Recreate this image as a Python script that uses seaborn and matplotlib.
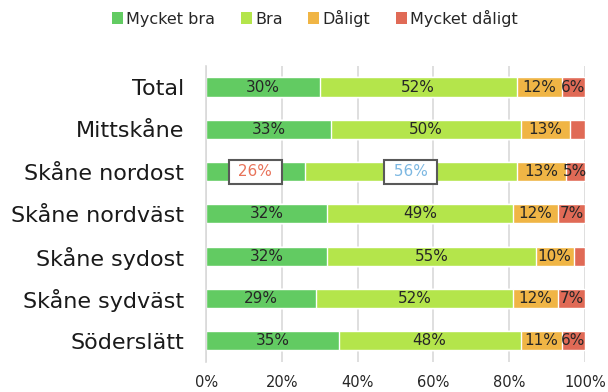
import numpy as np
import pandas as pd
import matplotlib
matplotlib.use("Agg")
import matplotlib.pyplot as plt
from matplotlib.patches import Patch
import seaborn as sns

# Survey answers per area (percent of respondents)
areas = ["Total", "Mittskåne", "Skåne nordost", "Skåne nordväst",
         "Skåne sydost", "Skåne sydväst", "Söderslätt"]
series = ["Mycket bra", "Bra", "Dåligt", "Mycket dåligt"]
mycket_bra = [30, 33, 26, 32, 32, 29, 35]
bra = [52, 50, 56, 49, 55, 52, 48]
daligt = [12, 13, 13, 12, 10, 12, 11]
mycket_daligt = [6, 4, 5, 7, 3, 7, 6]
x_ticks = [0, 20, 40, 60, 80, 100]

colors = ["#62CB62", "#B4E54B", "#F0B545", "#E06A56"]
highlight = {("Skåne nordost", 0): "#E8735A", ("Skåne nordost", 1): "#7DB8E2"}

sns.set_theme(style="white")
plt.rcParams["font.family"] = ["DejaVu Sans"]

values = np.array([mycket_bra, bra, daligt, mycket_daligt], dtype=float)
cum = values.cumsum(axis=0)
df = pd.DataFrame({"area": areas})
for i, name in enumerate(series):
    df[name + "_end"] = cum[i]

fig = plt.figure(figsize=(6.08, 3.92), dpi=100)
ax = fig.add_axes([0.339, 0.0765, 0.623, 0.7555])

# Stacked bars: draw cumulative totals from the outermost segment inwards
for i in reversed(range(len(series))):
    sns.barplot(data=df, x=series[i] + "_end", y="area", order=areas,
                color=colors[i], saturation=1, width=0.45, orient="h",
                ax=ax, zorder=2)

# Segment value labels
for r, area in enumerate(areas):
    start = 0.0
    for i in range(len(series)):
        v = values[i, r]
        if v >= 5:
            key = (area, i)
            if key in highlight:
                ax.text(start + v / 2, r, f" {int(v)}% ", ha="center",
                        va="center", fontsize=11, color=highlight[key],
                        zorder=4,
                        bbox=dict(boxstyle="square,pad=0.3", fc="white",
                                  ec="#595959", lw=1.5))
            else:
                ax.text(start + v / 2, r, f"{int(v)}%", ha="center",
                        va="center", fontsize=11, color="#262626", zorder=4)
        start += v

ax.set_xlim(0, 100)
ax.set_ylim(len(areas) - 0.5, -0.5)
ax.set_xticks(x_ticks)
ax.set_xticklabels([f"{t}%" for t in x_ticks], fontsize=10.5, color="#262626")
ax.set_yticks(range(len(areas)))
ax.set_yticklabels(areas, fontsize=16, color="#1a1a1a")
ax.set_yticks(np.arange(-0.5, len(areas), 1), minor=True)
ax.tick_params(axis="y", which="major", length=0, pad=16)
ax.tick_params(axis="y", which="minor", length=5, width=1.2, color="#D9D9D9")
ax.tick_params(axis="x", length=0, pad=9)
ax.set_xlabel("")
ax.set_ylabel("")

ax.set_axisbelow(True)
ax.xaxis.grid(True, color="#D9D9D9", lw=1.2)
ax.yaxis.grid(False)
for s in ["top", "right", "bottom"]:
    ax.spines[s].set_visible(False)
ax.spines["left"].set_color("#D9D9D9")
ax.spines["left"].set_linewidth(1.2)

handles = [Patch(facecolor=c, edgecolor="none", label=s)
           for c, s in zip(colors, series)]
fig.legend(handles=handles, loc="center", bbox_to_anchor=(0.518, 0.954),
           ncol=4, frameon=False, fontsize=11.5, handlelength=0.7,
           handleheight=0.7, handletextpad=0.2, columnspacing=1.6,
           labelcolor="#262626")

fig.savefig("out.png", dpi=100)
